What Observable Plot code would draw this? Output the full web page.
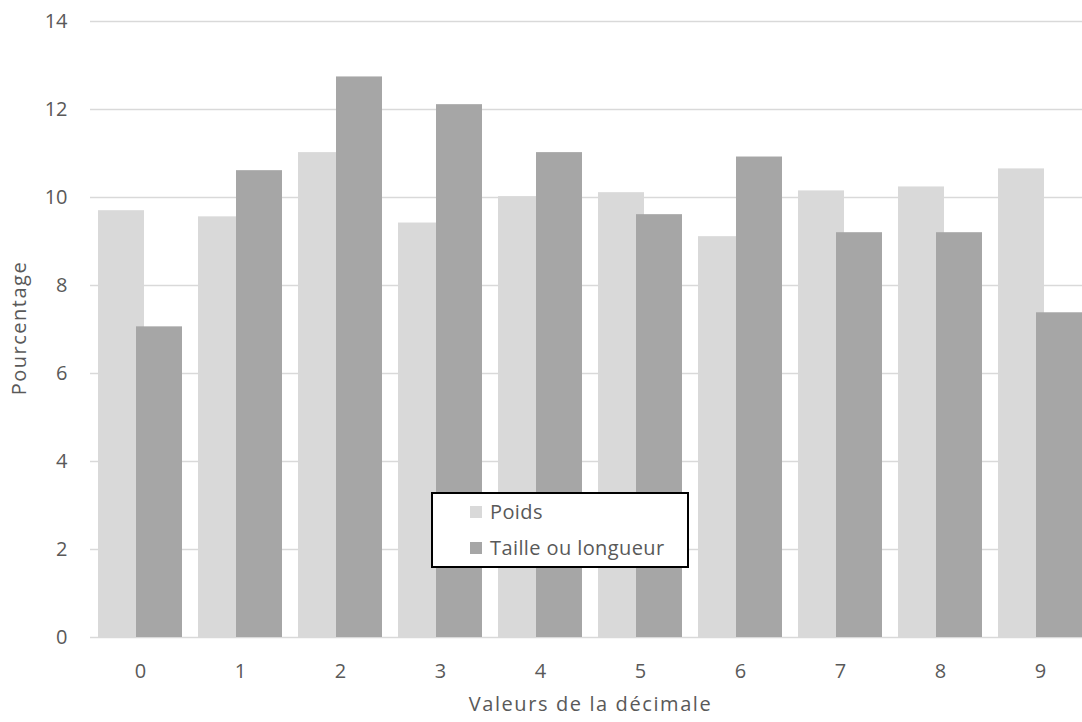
<!DOCTYPE html>
<html>
<head>
<meta charset="utf-8">
<script src="https://cdn.jsdelivr.net/npm/d3@7"></script>
<script src="https://cdn.jsdelivr.net/npm/@observablehq/plot@0.6"></script>
<style>
  html, body { margin: 0; padding: 0; background: #fff; overflow: hidden; }
  #wrap { position: relative; width: 1082px; height: 722px; font-family: "Open Sans", sans-serif; color: #595959; }
  .ytitle { position: absolute; left: 19px; top: 328px; transform: translate(-50%, -50%) rotate(-90deg); font-size: 20px; line-height: 20px; letter-spacing: 1.5px; white-space: nowrap; }
  .xtitle { position: absolute; left: 89px; width: 1003px; top: 694px; text-align: center; font-size: 20px; line-height: 20px; letter-spacing: 1.6px; white-space: nowrap; }
  .legend { position: absolute; left: 431px; top: 492px; width: 254px; height: 72px; border: 2px solid #000; background: #fff; font-size: 20px; line-height: 20px; letter-spacing: 0.4px; }
  .legend .item { position: absolute; left: 37px; display: flex; align-items: center; white-space: nowrap; }
  .legend .sw { width: 12px; height: 12px; margin-right: 8px; }
</style>
</head>
<body>
<div id="wrap"></div>
<script>
// Data
const digits = ["0", "1", "2", "3", "4", "5", "6", "7", "8", "9"];
const poids = [9.70, 9.56, 11.02, 9.42, 10.02, 10.11, 9.11, 10.15, 10.24, 10.65];
const taille = [7.06, 10.61, 12.74, 12.11, 11.02, 9.61, 10.92, 9.20, 9.20, 7.38];
const seriesNames = ["Poids", "Taille ou longueur"];
const seriesColors = ["#d9d9d9", "#a6a6a6"];
const yTicks = [0, 2, 4, 6, 8, 10, 12, 14];
const xTitle = "Valeurs de la décimale";
const yTitle = "Pourcentage";

const rowsP = digits.map((d, i) => ({digit: d, value: poids[i]}));
const rowsT = digits.map((d, i) => ({digit: d, value: taille[i]}));

const chart = Plot.plot({
  width: 1082,
  height: 690,
  marginTop: 21,
  marginBottom: 53,
  marginLeft: 90,
  marginRight: 0,
  style: {fontFamily: "Open Sans, sans-serif", fontSize: "20px", color: "#595959", background: "#fff", overflow: "hidden"},
  x: {type: "band", domain: digits, range: [89, 1091.5], paddingInner: 0.54, paddingOuter: 0.27, label: null},
  y: {domain: [0, 14], label: null},
  marks: [
    Plot.ruleY(yTicks, {stroke: "#d9d9d9", strokeWidth: 1.5}),
    Plot.barY(rowsP, {x: "digit", y: "value", fill: seriesColors[0], dx: -19}),
    Plot.barY(rowsT, {x: "digit", y: "value", fill: seriesColors[1], dx: 19}),
    Plot.axisY({ticks: yTicks, tickSize: 0, tickPadding: 23, label: null, fontSize: 20, fill: "#595959"}),
    Plot.axisX({tickSize: 0, tickPadding: 26, label: null, fontSize: 20, fill: "#595959"})
  ]
});

const wrap = document.getElementById("wrap");
wrap.appendChild(chart);

const yt = document.createElement("div");
yt.className = "ytitle";
yt.textContent = yTitle;
wrap.appendChild(yt);

const xt = document.createElement("div");
xt.className = "xtitle";
xt.textContent = xTitle;
wrap.appendChild(xt);

const lg = document.createElement("div");
lg.className = "legend";
seriesNames.forEach((name, i) => {
  const it = document.createElement("div");
  it.className = "item";
  it.style.top = (i === 0 ? 7.5 : 44) + "px";
  const sw = document.createElement("span");
  sw.className = "sw";
  sw.style.background = seriesColors[i];
  const tx = document.createElement("span");
  tx.textContent = name;
  it.appendChild(sw);
  it.appendChild(tx);
  lg.appendChild(it);
});
wrap.appendChild(lg);
</script>
</body>
</html>
